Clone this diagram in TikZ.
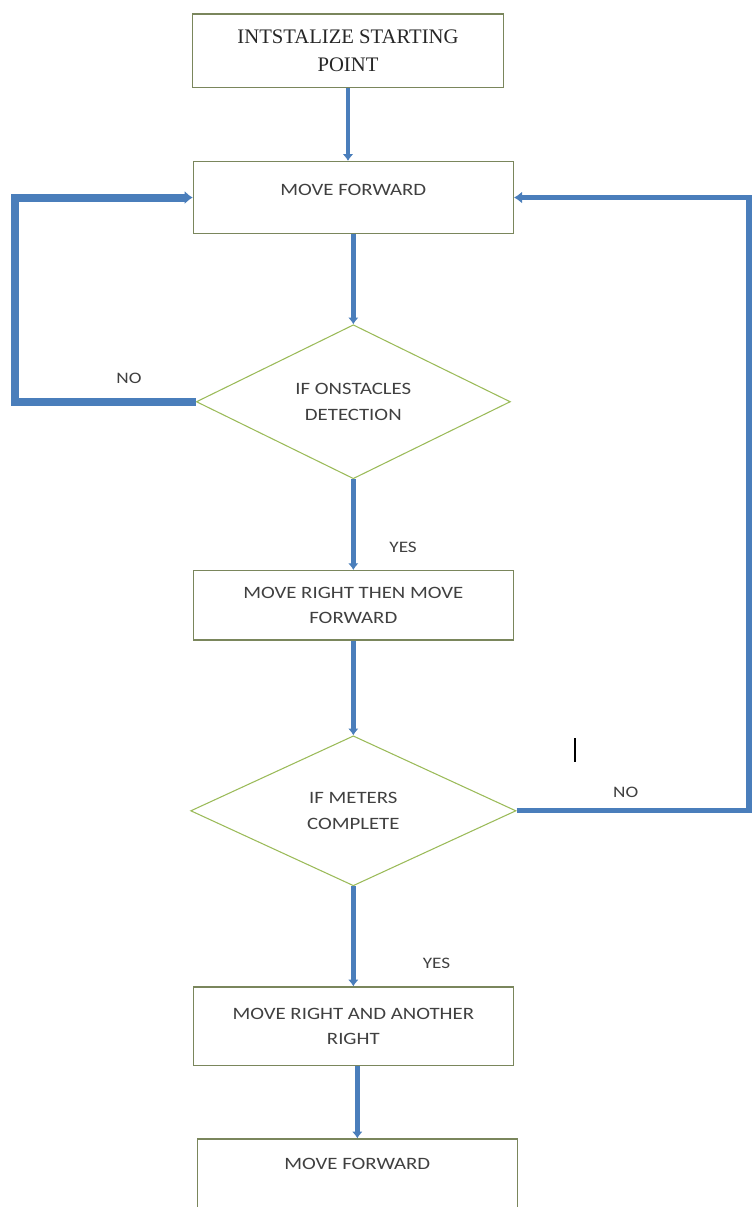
\documentclass[tikz,border=0pt]{standalone}
\usepackage{fontspec}
\setmainfont{Liberation Serif}
\setsansfont{Carlito}[FakeStretch=1.2]
\usetikzlibrary{positioning, shapes.geometric, arrows.meta}
\definecolor{flowblue}{RGB}{74,126,187}
\definecolor{boxline}{RGB}{122,134,92}
\definecolor{decline}{RGB}{155,187,89}
\tikzset{
startbox/.style={draw=boxline, line width=1pt, minimum width=233pt, minimum height=55pt, align=center, font=\fontsize{15.5}{21}\selectfont, text=black!85}, % first step, serif text
procbox/.style={draw=boxline, line width=1pt, minimum width=240pt, align=center, font=\sffamily\fontsize{13}{19}\selectfont, text=black!75}, % every action box
decision/.style={diamond, draw=decline, line width=0.8pt, inner sep=0pt, align=center, font=\sffamily\fontsize{13}{19.5}\selectfont, text=black!75}, % the two questions
flow/.style={-{Latex[length=5pt,width=8pt]}, draw=flowblue, line width=3.5pt}, % straight arrows
loopline/.style={-{Latex[length=6pt,width=10pt]}, draw=flowblue, line width=6pt}, % the left loop back
backline/.style={-{Latex[length=6pt,width=9pt]}, draw=flowblue, line width=4pt}, % the right loop back
lbl/.style={font=\sffamily\fontsize{12}{14}\selectfont, text=black!75}, % YES and NO
}
\begin{document}
\begin{tikzpicture}
    \useasboundingbox (0,0) rectangle (564pt,-905.25pt);
    \clip (0,0) rectangle (564pt,-905.25pt);
    \node[startbox] (init) at (261pt,-37.9pt) {INTSTALIZE STARTING\\POINT};
    \node[procbox, minimum height=54pt, text depth=12pt, below=54.75pt of init, xshift=4pt] (fwd) {MOVE FORWARD};
    \node[decision, minimum width=235.5pt, minimum height=115.5pt, below=67.5pt of fwd] (d1) {IF ONSTACLES\\DETECTION};
    \node[procbox, minimum height=52pt, below=68pt of d1] (rt1) {MOVE RIGHT THEN MOVE\\FORWARD};
    \node[decision, minimum width=244pt, minimum height=112.5pt, below=71pt of rt1] (d2) {IF METERS\\COMPLETE};
    \node[procbox, minimum height=59pt, below=75pt of d2] (rt2) {MOVE RIGHT AND ANOTHER\\RIGHT};
    \node[procbox, minimum height=60pt, text depth=22pt, below=54pt of rt2, xshift=3pt] (fwd2) {MOVE FORWARD};
    \coordinate (lft) at (11.25pt,-300pt);
    \coordinate (rgt) at (561.75pt,-300pt);
    \draw[flow] (init.south) -- (init.south |- fwd.north);
    \draw[flow] (fwd.south) -- (d1.north);
    \draw[flow] (d1.south) -- node[lbl, right=22pt, pos=0.75] {YES} (rt1.north);
    \draw[flow] (rt1.south) -- (d2.north);
    \draw[flow] (d2.south) -- node[lbl, right=47pt, pos=0.77] {YES} (rt2.north);
    \draw[flow] (fwd2.north |- rt2.south) -- (fwd2.north);
    \draw[loopline] (d1.west) -- node[lbl, above=7.5pt, pos=0.37] {NO} (d1.west -| lft) |- (fwd.west);
    \draw[backline] (d2.east) -- node[lbl, above=4.5pt, pos=0.47] {NO} (d2.east -| rgt) |- (fwd.east);
    % stray text cursor mark
    \draw[line width=1.2pt] (431.25pt,-553.5pt) -- (431.25pt,-571.5pt);
\end{tikzpicture}
\end{document}
